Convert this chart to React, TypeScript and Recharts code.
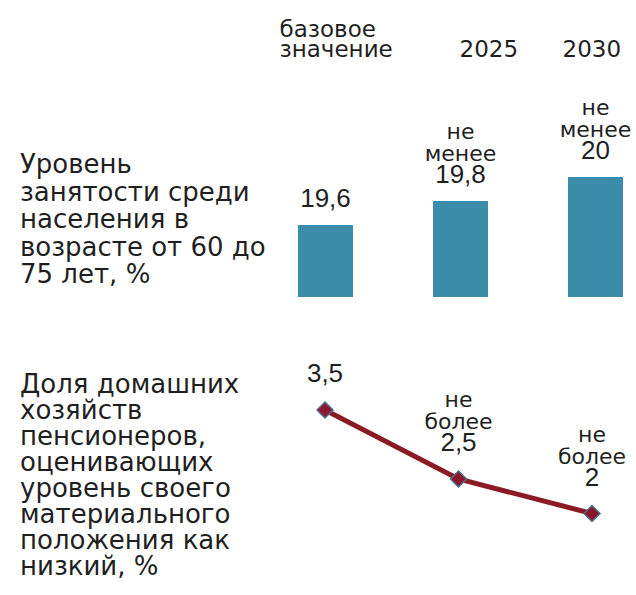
import React from 'react';
import { BarChart, Bar, LineChart, Line, XAxis, YAxis, LabelList } from 'recharts';

// categories / column headers
const periods = ['базовое значение', '2025', '2030'];

// employment rate of people aged 60-75, %
const employment = [19.6, 19.8, 20];
const employmentNote = ['', 'не менее', 'не менее'];

// share of pensioner households rating their material situation as low, %
const lowIncome = [3.5, 2.5, 2];
const lowIncomeNote = ['', 'не более', 'не более'];

const employmentTitle = ['Уровень', 'занятости среди', 'населения в', 'возрасте от 60 до', '75 лет, %'];
const lowIncomeTitle = [
  'Доля домашних',
  'хозяйств',
  'пенсионеров,',
  'оценивающих',
  'уровень своего',
  'материального',
  'положения как',
  'низкий, %',
];

const barData = periods.map((p, i) => ({ period: p, value: employment[i], note: employmentNote[i] }));
const lineData = periods.map((p, i) => ({ period: p, value: lowIncome[i], note: lowIncomeNote[i] }));

const TEXT = '#1f1f1f';
const HUMAN = '"DejaVu Sans", sans-serif';
const NUM = '"Liberation Sans", Arial, sans-serif';
const headerDx = [-46, -1, -33];

const fmt = (v: number) => String(v).replace('.', ',');

const HeaderTick = (props: any) => {
  const { x, payload, index } = props;
  const words = String(payload.value).split(' ');
  const base = 57;
  return (
    <g>
      {words.map((w, i) => (
        <text
          key={i}
          x={x + headerDx[index]}
          y={base - (words.length - 1 - i) * 20}
          textAnchor="start"
          fontFamily={HUMAN}
          fontSize={23}
          fill={TEXT}
        >
          {w}
        </text>
      ))}
    </g>
  );
};

const makeLabel = (notes: string[], gap: number, pitch: number) => (props: any) => {
  const { x, y, width, value, index } = props;
  const cx = width ? x + width / 2 : x;
  const base = y - gap;
  const words = notes[index] ? notes[index].split(' ') : [];
  return (
    <g>
      {words.map((w, i) => (
        <text
          key={i}
          x={cx}
          y={base - (words.length - i) * pitch}
          textAnchor="middle"
          fontFamily={HUMAN}
          fontSize={22}
          fill={TEXT}
        >
          {w}
        </text>
      ))}
      <text x={cx} y={base} textAnchor="middle" fontFamily={NUM} fontSize={26} fill={TEXT}>
        {fmt(value)}
      </text>
    </g>
  );
};

const Diamond = (props: any) => {
  const { cx, cy } = props;
  const r = 8;
  return (
    <polygon
      points={`${cx},${cy - r} ${cx + r},${cy} ${cx},${cy + r} ${cx - r},${cy}`}
      fill="#8c1630"
      stroke="#4d6f82"
      strokeWidth={1.5}
    />
  );
};

const Title = ({ lines, top, lh }: { lines: string[]; top: number; lh: number }) => (
  <div
    style={{
      position: 'absolute',
      left: 20,
      top,
      fontFamily: HUMAN,
      fontSize: 26,
      lineHeight: `${lh}px`,
      color: TEXT,
      whiteSpace: 'nowrap',
    }}
  >
    {lines.map((l, i) => (
      <div key={i}>{l}</div>
    ))}
  </div>
);

export default function App() {
  return (
    <div
      style={{
        position: 'absolute',
        left: 0,
        top: 0,
        width: 636,
        height: 595,
        overflow: 'hidden',
        background: '#fff',
      }}
    >
      <Title lines={employmentTitle} top={151} lh={27.5} />
      <Title lines={lowIncomeTitle} top={371} lh={26} />

      <div style={{ position: 'absolute', left: 0, top: 0 }}>
        <BarChart width={670} height={297} data={barData} margin={{ top: 0, right: 7, bottom: 0, left: 258 }}>
          <XAxis
            dataKey="period"
            orientation="top"
            height={57}
            axisLine={false}
            tickLine={false}
            interval={0}
            tick={<HeaderTick />}
          />
          <YAxis hide domain={[19, 21]} />
          <Bar dataKey="value" fill="#3a8da8" barSize={55} isAnimationActive={false}>
            <LabelList dataKey="value" content={makeLabel(employmentNote, 18, 22)} />
          </Bar>
        </BarChart>
      </div>

      <div style={{ position: 'absolute', left: 0, top: 0 }}>
        <LineChart width={636} height={595} data={lineData} margin={{ top: 341, right: 44, bottom: 47, left: 325 }}>
          <XAxis dataKey="period" hide />
          <YAxis hide domain={[1.5, 4.5]} />
          <Line
            dataKey="value"
            stroke="#8b1a24"
            strokeWidth={5}
            dot={(p: any) => <Diamond key={p.index} {...p} />}
            activeDot={false}
            isAnimationActive={false}
          >
            <LabelList dataKey="value" content={makeLabel(lowIncomeNote, 28, 22)} />
          </Line>
        </LineChart>
      </div>
    </div>
  );
}
